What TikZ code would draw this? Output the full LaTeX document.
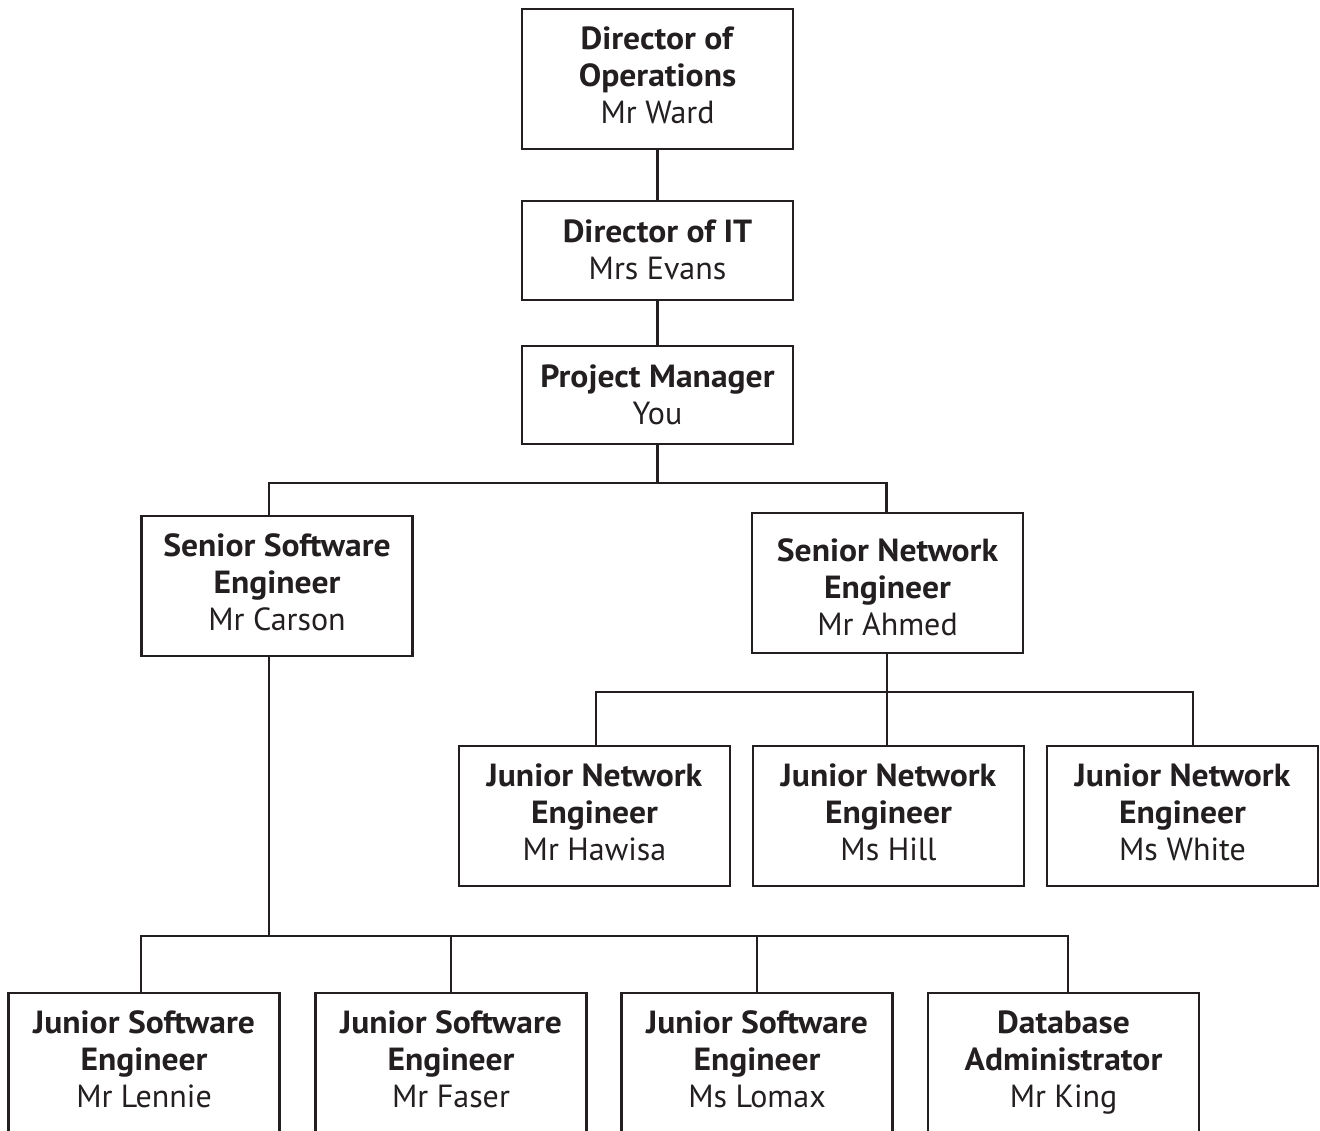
\documentclass[tikz,border=0pt]{standalone}
\usepackage{fontspec}
\setmainfont{PT Sans}[BoldFeatures={FakeStretch=1.05}]
\definecolor{ink}{HTML}{231F20}
\newcommand{\bl}[1]{\textbf{#1}\strut}
\newcommand{\bt}[1]{\rule{0pt}{33pt}\textbf{#1}\strut}
\newcommand{\bd}[1]{\rule{0pt}{42pt}\textbf{#1}\strut}
\newcommand{\nl}[1]{#1\strut}
\tikzset{
  box/.style={draw=ink, line width=2.5pt, minimum width=271pt, minimum height=140pt,
    inner sep=0pt, align=center, text=ink, font=\fontsize{32}{37}\selectfont},
  box2/.style={box, minimum height=99pt},
  link/.style={draw=ink, line width=2.2pt},
}
\begin{document}
\begin{tikzpicture}[x=1pt,y=-1pt]
\useasboundingbox (0,0) rectangle (1320,1131);
\clip (0,0) rectangle (1320,1131);
\node[box] (dops) at (657.5,79) {\bl{Director of}\\\bl{Operations}\\\nl{Mr Ward}};
\node[box2] (dit) at (657.5,250.5) {\bt{Director of IT}\\\nl{Mrs Evans}};
\node[box2, minimum height=98pt] (pm) at (657.5,395) {\bt{Project Manager}\\\nl{You}};
\node[box] (sss) at (277,586) {\bl{Senior Software}\\\bl{Engineer}\\\nl{Mr Carson}};
\node[box] (sne) at (887.5,583) {\bd{Senior Network}\\\bl{Engineer}\\\nl{Mr Ahmed}};
\node[box] (jn1) at (594.5,816) {\bl{Junior Network}\\\bl{Engineer}\\\nl{Mr Hawisa}};
\node[box] (jn2) at (888.5,816) {\bl{Junior Network}\\\bl{Engineer}\\\nl{Ms Hill}};
\node[box] (jn3) at (1182.5,816) {\bl{Junior Network}\\\bl{Engineer}\\\nl{Ms White}};
\node[box] (js1) at (144,1063) {\bl{Junior Software}\\\bl{Engineer}\\\nl{Mr Lennie}};
\node[box] (js2) at (451,1063) {\bl{Junior Software}\\\bl{Engineer}\\\nl{Mr Faser}};
\node[box] (js3) at (757,1063) {\bl{Junior Software}\\\bl{Engineer}\\\nl{Ms Lomax}};
\node[box] (dba) at (1063.5,1063) {\bl{Database}\\\bl{Administrator}\\\nl{Mr King}};
\coordinate (h1) at (657.5,483);
\coordinate (h2) at (887,692);
\coordinate (h3) at (269,936);
\draw[link] (dops.south) -- (dit.north);
\draw[link] (dit.south) -- (pm.north);
\draw[link] (pm.south) -- (h1);
\draw[link] ([xshift=-8pt]sss.north) |- (h1) -| ([xshift=-1pt]sne.north);
\draw[link] ([xshift=-0.5pt]sne.south) -- (h2);
\draw[link] ([xshift=1.5pt]jn1.north) |- (h2) -| ([xshift=10.5pt]jn3.north);
\draw[link] (jn2.north -| h2) -- (h2);
\draw[link] ([xshift=-8pt]sss.south) -- (h3);
\draw[link] ([xshift=-3pt]js1.north) |- (h3) -| ([xshift=4.5pt]dba.north);
\draw[link] (js2.north) -- (js2.north |- h3);
\draw[link] (js3.north) -- (js3.north |- h3);
\end{tikzpicture}
\end{document}
